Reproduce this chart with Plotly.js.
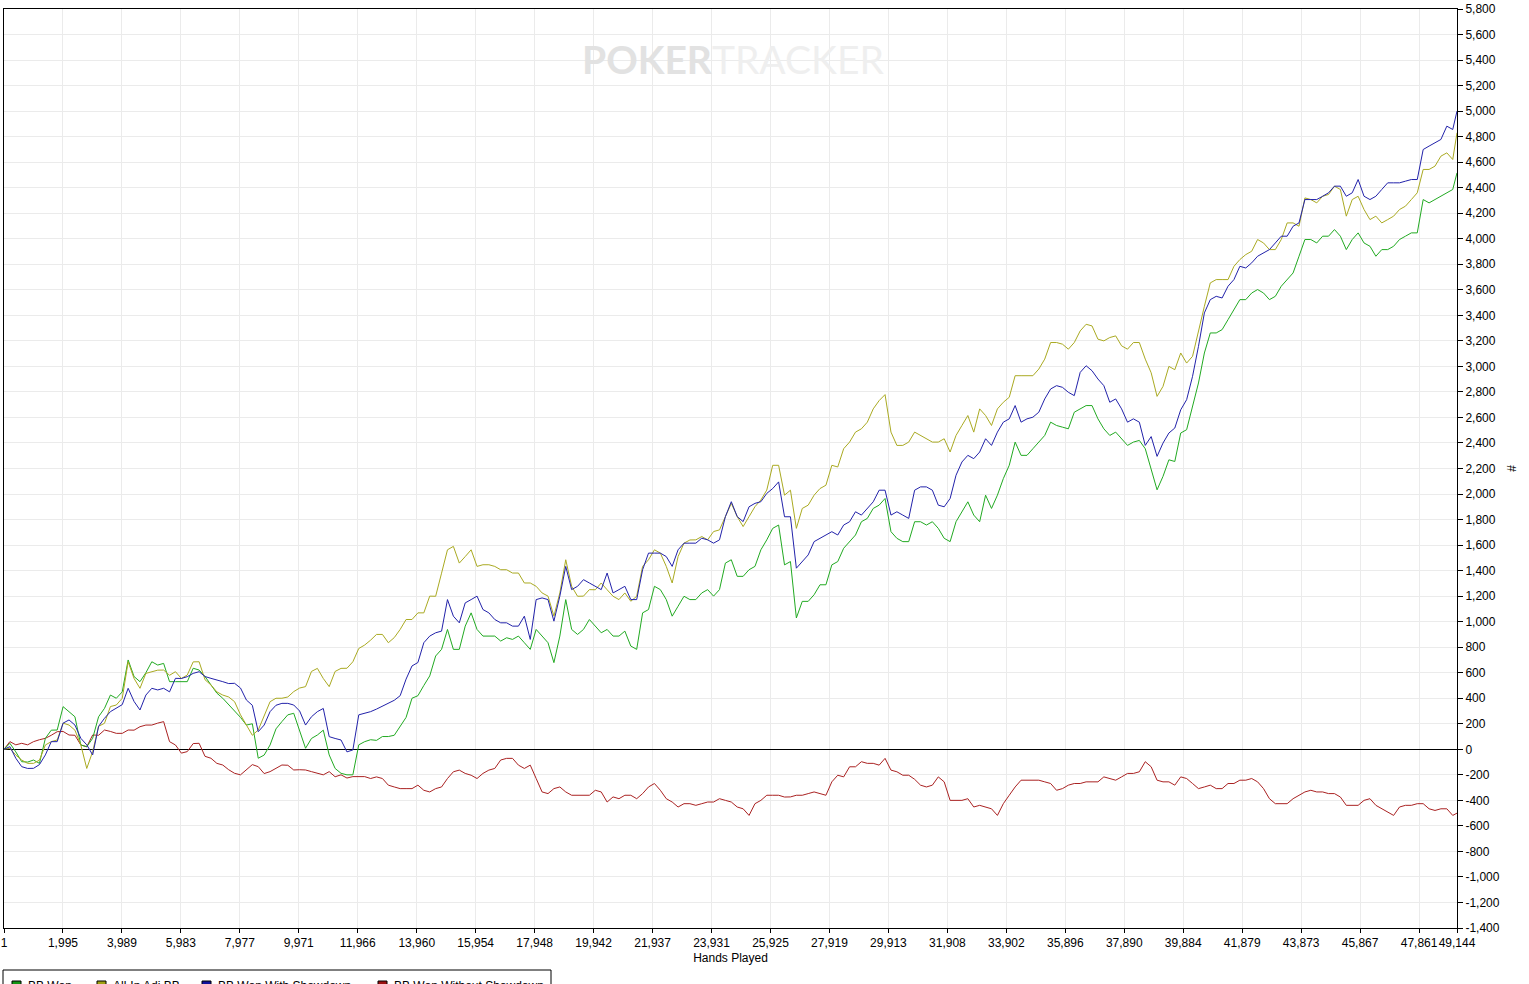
<!DOCTYPE html>
<html>
<head>
<meta charset="utf-8">
<script src="https://cdn.plot.ly/plotly-3.0.1.min.js"></script>
<style>
  html, body { margin: 0; padding: 0; background: #fff; overflow: hidden; }
  #graph { width: 1529px; height: 984px; }
</style>
</head>
<body>
<div id="graph"></div>
<script>
// hands played (x), one sample every 200 hands
const hands = [
  1, 200, 400, 600, 800, 1000, 1200, 1400, 1600, 1800,
  2000, 2200, 2400, 2600, 2800, 3000, 3200, 3400, 3600, 3800,
  4000, 4200, 4400, 4600, 4800, 5000, 5200, 5400, 5600, 5800,
  6000, 6200, 6400, 6600, 6800, 7000, 7200, 7400, 7600, 7800,
  8000, 8200, 8400, 8600, 8800, 9000, 9200, 9400, 9600, 9800,
  10000, 10200, 10400, 10600, 10800, 11000, 11200, 11400, 11600, 11800,
  12000, 12200, 12400, 12600, 12800, 13000, 13200, 13400, 13600, 13800,
  14000, 14200, 14400, 14600, 14800, 15000, 15200, 15400, 15600, 15800,
  16000, 16200, 16400, 16600, 16800, 17000, 17200, 17400, 17600, 17800,
  18000, 18200, 18400, 18600, 18800, 19000, 19200, 19400, 19600, 19800,
  20000, 20200, 20400, 20600, 20800, 21000, 21200, 21400, 21600, 21800,
  22000, 22200, 22400, 22600, 22800, 23000, 23200, 23400, 23600, 23800,
  24000, 24200, 24400, 24600, 24800, 25000, 25200, 25400, 25600, 25800,
  26000, 26200, 26400, 26600, 26800, 27000, 27200, 27400, 27600, 27800,
  28000, 28200, 28400, 28600, 28800, 29000, 29200, 29400, 29600, 29800,
  30000, 30200, 30400, 30600, 30800, 31000, 31200, 31400, 31600, 31800,
  32000, 32200, 32400, 32600, 32800, 33000, 33200, 33400, 33600, 33800,
  34000, 34200, 34400, 34600, 34800, 35000, 35200, 35400, 35600, 35800,
  36000, 36200, 36400, 36600, 36800, 37000, 37200, 37400, 37600, 37800,
  38000, 38200, 38400, 38600, 38800, 39000, 39200, 39400, 39600, 39800,
  40000, 40200, 40400, 40600, 40800, 41000, 41200, 41400, 41600, 41800,
  42000, 42200, 42400, 42600, 42800, 43000, 43200, 43400, 43600, 43800,
  44000, 44200, 44400, 44600, 44800, 45000, 45200, 45400, 45600, 45800,
  46000, 46200, 46400, 46600, 46800, 47000, 47200, 47400, 47600, 47800,
  48000, 48200, 48400, 48600, 48800, 49000, 49144
];

const bbWon = [
  0, 47, -20, -97, -100, -84, -110, 86, 150, 151,
  334, 295, 255, 34, 20, 86, 255, 321, 425, 400,
  450, 700, 570, 530, 600, 686, 660, 673, 530, 530,
  530, 530, 635, 621, 570, 504, 440, 400, 350, 295,
  250, 190, 200, -70, -45, 34, 160, 217, 270, 282,
  150, 8, 85, 112, 150, -44, -150, -188, -200, -200,
  35, 60, 75, 70, 100, 100, 110, 180, 250, 400,
  420, 500, 575, 731, 783, 939, 783, 783, 965, 1069,
  939, 887, 887, 887, 848, 874, 861, 887, 835, 783,
  939, 887, 835, 679, 887, 1173, 939, 900, 939, 1017,
  965, 913, 939, 887, 887, 926, 809, 783, 1069, 1095,
  1277, 1251, 1173, 1043, 1121, 1199, 1173, 1173, 1225, 1251,
  1200, 1251, 1459, 1485, 1355, 1355, 1407, 1433, 1563, 1641,
  1731, 1757, 1445, 1471, 1029, 1159, 1159, 1211, 1289, 1289,
  1445, 1471, 1575, 1627, 1679, 1783, 1809, 1887, 1913, 1965,
  1705, 1653, 1627, 1627, 1783, 1783, 1757, 1783, 1731, 1653,
  1627, 1783, 1861, 1939, 1835, 1783, 1991, 1887, 1991, 2121,
  2225, 2407, 2303, 2303, 2355, 2407, 2459, 2563, 2537, 2524,
  2511, 2641, 2667, 2693, 2693, 2589, 2511, 2459, 2485, 2433,
  2381, 2407, 2420, 2355, 2200, 2033, 2138, 2268, 2255, 2478,
  2504, 2687, 2870, 3105, 3262, 3262, 3288, 3366, 3445, 3523,
  3523, 3575, 3602, 3575, 3523, 3549, 3628, 3680, 3732, 3863,
  3994, 3994, 3967, 4020, 4020, 4072, 4020, 3915, 3994, 4046,
  3967, 3941, 3863, 3915, 3915, 3941, 3994, 4020, 4046, 4046,
  4307, 4281, 4307, 4333, 4360, 4386, 4516
];

const allInAdj = [
  0, 8, -45, -84, -110, -110, -85, 34, 60, 73,
  205, 190, 150, 34, -150, -18, 180, 204, 335, 347,
  400, 686, 555, 478, 595, 608, 620, 621, 580, 608,
  555, 582, 685, 686, 545, 504, 450, 425, 410, 373,
  270, 190, 110, 151, 255, 373, 400, 400, 410, 452,
  480, 491, 610, 634, 555, 491, 610, 634, 635, 686,
  790, 817, 855, 900, 900, 835, 875, 939, 1017, 1017,
  1069, 1069, 1200, 1199, 1380, 1563, 1590, 1459, 1510, 1563,
  1433, 1446, 1446, 1433, 1407, 1407, 1381, 1381, 1303, 1303,
  1277, 1225, 1200, 1043, 1225, 1485, 1277, 1199, 1200, 1251,
  1250, 1303, 1250, 1199, 1173, 1225, 1160, 1199, 1433, 1485,
  1563, 1537, 1433, 1303, 1510, 1615, 1640, 1641, 1667, 1641,
  1706, 1719, 1823, 1927, 1823, 1745, 1823, 1901, 1953, 2031,
  2225, 2225, 1991, 2030, 1731, 1887, 1913, 1991, 2043, 2069,
  2225, 2212, 2355, 2407, 2485, 2511, 2563, 2667, 2732, 2779,
  2485, 2381, 2381, 2407, 2485, 2459, 2433, 2407, 2407, 2433,
  2329, 2459, 2537, 2615, 2485, 2667, 2615, 2537, 2667, 2719,
  2758, 2927, 2927, 2927, 2927, 2979, 3057, 3187, 3187, 3174,
  3135, 3187, 3278, 3330, 3317, 3213, 3200, 3226, 3239, 3161,
  3135, 3187, 3187, 3057, 2950, 2765, 2843, 3000, 2974, 3105,
  3026, 3079, 3288, 3471, 3654, 3680, 3680, 3680, 3784, 3837,
  3876, 3902, 3994, 3967, 3915, 3915, 3994, 4124, 4124, 4098,
  4320, 4307, 4281, 4333, 4347, 4412, 4386, 4177, 4307, 4333,
  4229, 4150, 4177, 4124, 4150, 4177, 4229, 4255, 4307, 4360,
  4543, 4543, 4569, 4647, 4673, 4621, 4830
];

const wonWithSd = [
  0, 21, -70, -136, -150, -149, -120, -44, 60, 60,
  205, 230, 190, 86, 35, -44, 180, 243, 295, 321,
  350, 478, 375, 308, 425, 478, 465, 478, 450, 556,
  555, 569, 595, 608, 570, 556, 545, 530, 515, 517,
  480, 386, 345, 138, 190, 295, 345, 360, 360, 347,
  300, 190, 255, 295, 320, 99, 85, 73, -20, -5,
  270, 282, 295, 315, 337, 360, 384, 420, 550, 653,
  680, 835, 887, 913, 926, 1173, 1043, 991, 1147, 1173,
  1200, 1095, 1069, 1017, 991, 991, 965, 965, 1043, 861,
  1173, 1186, 1173, 1004, 1200, 1433, 1251, 1277, 1329, 1303,
  1277, 1251, 1381, 1225, 1251, 1277, 1173, 1173, 1407, 1537,
  1537, 1537, 1510, 1433, 1563, 1615, 1615, 1615, 1654, 1641,
  1615, 1641, 1823, 1940, 1823, 1784, 1900, 1927, 1940, 2005,
  2043, 2095, 1822, 1822, 1419, 1471, 1523, 1627, 1653, 1679,
  1705, 1679, 1757, 1783, 1861, 1835, 1887, 1939, 2030, 2030,
  1835, 1861, 1835, 1809, 2030, 2056, 2056, 2030, 1913, 1900,
  1965, 2147, 2251, 2303, 2277, 2329, 2433, 2381, 2485, 2563,
  2589, 2693, 2563, 2589, 2602, 2641, 2745, 2823, 2849, 2836,
  2797, 2771, 2953, 3005, 2966, 2901, 2849, 2719, 2745, 2667,
  2563, 2589, 2563, 2381, 2450, 2295, 2399, 2478, 2517, 2660,
  2739, 2922, 3157, 3419, 3523, 3549, 3536, 3628, 3680, 3784,
  3771, 3811, 3863, 3889, 3915, 3967, 4020, 4020, 4098, 4124,
  4307, 4307, 4307, 4333, 4360, 4412, 4412, 4333, 4360, 4464,
  4333, 4307, 4333, 4386, 4438, 4438, 4438, 4451, 4464, 4464,
  4699, 4726, 4752, 4778, 4882, 4856, 5000
];

const wonWithoutSd = [
  0, 60, 35, 47, 35, 60, 75, 86, 110, 138,
  140, 112, 110, 34, 20, 112, 110, 151, 140, 125,
  125, 151, 150, 177, 190, 190, 205, 217, 60, 34,
  -30, -18, 45, 47, -55, -70, -110, -123, -160, -188,
  -200, -162, -120, -136, -190, -175, -150, -123, -125, -162,
  -160, -162, -175, -188, -200, -175, -215, -200, -225, -214,
  -215, -214, -229, -216, -229, -281, -295, -308, -308, -308,
  -281, -321, -334, -308, -295, -229, -176, -163, -189, -203,
  -229, -189, -163, -150, -84, -71, -71, -124, -150, -124,
  -229, -334, -347, -308, -295, -334, -360, -360, -360, -360,
  -321, -334, -413, -373, -387, -360, -360, -387, -347, -295,
  -268, -321, -387, -413, -452, -426, -426, -439, -426, -413,
  -413, -387, -400, -413, -452, -466, -518, -426, -400, -360,
  -360, -360, -374, -373, -360, -360, -347, -334, -347, -360,
  -255, -203, -216, -137, -137, -97, -110, -110, -124, -71,
  -163, -176, -203, -203, -235, -281, -295, -281, -216, -255,
  -400, -400, -400, -387, -452, -439, -452, -466, -518, -426,
  -360, -295, -242, -242, -242, -242, -255, -268, -321, -308,
  -281, -268, -268, -255, -255, -255, -216, -229, -242, -216,
  -189, -189, -176, -97, -137, -242, -255, -255, -281, -216,
  -229, -268, -308, -295, -281, -308, -308, -268, -268, -242,
  -242, -229, -255, -308, -387, -426, -426, -426, -387, -360,
  -334, -321, -334, -334, -347, -347, -374, -439, -439, -439,
  -400, -387, -439, -466, -492, -518, -452, -439, -439, -426,
  -426, -466, -479, -466, -466, -518, -500
];

const seriesNames = ["BB Won", "All-In Adj BB", "BB Won With Showdown", "BB Won Without Showdown"];
const lineColors = ["#22aa22", "#aaaa22", "#2222aa", "#aa2222"];
const swatchColors = ["#149614", "#a0a010", "#10109c", "#9c1010"];

const xTickVals = [
  1, 1995, 3989, 5983, 7977, 9971, 11966, 13960, 15954, 17948,
  19942, 21937, 23931, 25925, 27919, 29913, 31908, 33902, 35896, 37890,
  39884, 41879, 43873, 45867, 47861, 49144
];
const yTickVals = [
  -1400, -1200, -1000, -800, -600, -400, -200, 0, 200, 400, 600, 800,
  1000, 1200, 1400, 1600, 1800, 2000, 2200, 2400, 2600, 2800, 3000,
  3200, 3400, 3600, 3800, 4000, 4200, 4400, 4600, 4800, 5000, 5200,
  5400, 5600, 5800
];

const fmt = v => v.toLocaleString("en-US");

// plot box in pixels, used to place the legend strip under the axis
const W = 1529, H = 984;
const M = { l: 4, r: 72, t: 9, b: 56 };
const px = x => (x - M.l) / (W - M.l - M.r);
const py = y => (H - M.b - y) / (H - M.t - M.b);

const valuesBySeries = [bbWon, allInAdj, wonWithSd, wonWithoutSd];
const order = [3, 0, 1, 2];

const traces = order.map(i => ({
  x: hands,
  y: valuesBySeries[i],
  type: "scatter",
  mode: "lines",
  name: seriesNames[i],
  line: { color: lineColors[i], width: 1 },
  showlegend: false,
  hoverinfo: "skip"
}));

const axisFont = { family: "Liberation Sans, Arial, sans-serif", size: 12, color: "#000" };

// legend strip (cut by the bottom of the image, like the original)
const legendSwatchX = [12, 97, 202, 378];
const shapes = [{
  type: "rect", xref: "paper", yref: "paper",
  x0: px(3), x1: px(551), y0: py(970), y1: py(1004),
  line: { color: "#000", width: 1 }, fillcolor: "#fff", layer: "above"
}];
const annotations = [];
seriesNames.forEach((name, i) => {
  const sx = legendSwatchX[i];
  shapes.push({
    type: "rect", xref: "paper", yref: "paper",
    x0: px(sx), x1: px(sx + 9), y0: py(981), y1: py(990),
    line: { color: "#000", width: 1 }, fillcolor: swatchColors[i], layer: "above"
  });
  annotations.push({
    xref: "paper", yref: "paper",
    x: px(sx + 14), y: py(986),
    xanchor: "left", yanchor: "middle",
    showarrow: false,
    text: name,
    font: axisFont
  });
});

annotations.push({
  xref: "paper", yref: "paper",
  x: px(733), y: py(59),
  xanchor: "center", yanchor: "middle",
  showarrow: false,
  text: '<span style="color:#e2e2e2"><b>POKER</b></span><span style="color:#efefef">TRACKER</span>',
  font: { family: "Lato, Open Sans, sans-serif", size: 39 }
});

const layout = {
  width: W,
  height: H,
  margin: { l: M.l, r: M.r, t: M.t, b: M.b, autoexpand: false },
  paper_bgcolor: "#fff",
  plot_bgcolor: "#fff",
  font: axisFont,
  showlegend: false,
  xaxis: {
    range: [1, 49144],
    tickmode: "array",
    tickvals: xTickVals,
    ticktext: xTickVals.map(fmt),
    tickangle: 0,
    ticks: "outside",
    ticklen: 4,
    tickcolor: "#000",
    showline: true,
    linecolor: "#000",
    linewidth: 1,
    mirror: true,
    showgrid: true,
    gridcolor: "#ebebeb",
    gridwidth: 1,
    zeroline: false,
    tickfont: axisFont,
    title: { text: "Hands Played", font: axisFont, standoff: 4 }
  },
  yaxis: {
    side: "right",
    range: [-1400, 5800],
    tickmode: "array",
    tickvals: yTickVals,
    ticktext: yTickVals.map(fmt),
    ticks: "outside",
    ticklen: 5,
    tickcolor: "#000",
    showline: true,
    linecolor: "#000",
    linewidth: 1,
    mirror: true,
    showgrid: true,
    gridcolor: "#ebebeb",
    gridwidth: 1,
    zeroline: true,
    zerolinecolor: "#000",
    zerolinewidth: 1,
    tickfont: axisFont,
    title: { text: "#", font: axisFont, standoff: 8 }
  },
  shapes: shapes,
  annotations: annotations
};

Plotly.newPlot("graph", traces, layout, { displayModeBar: false, staticPlot: true });
</script>
</body>
</html>
